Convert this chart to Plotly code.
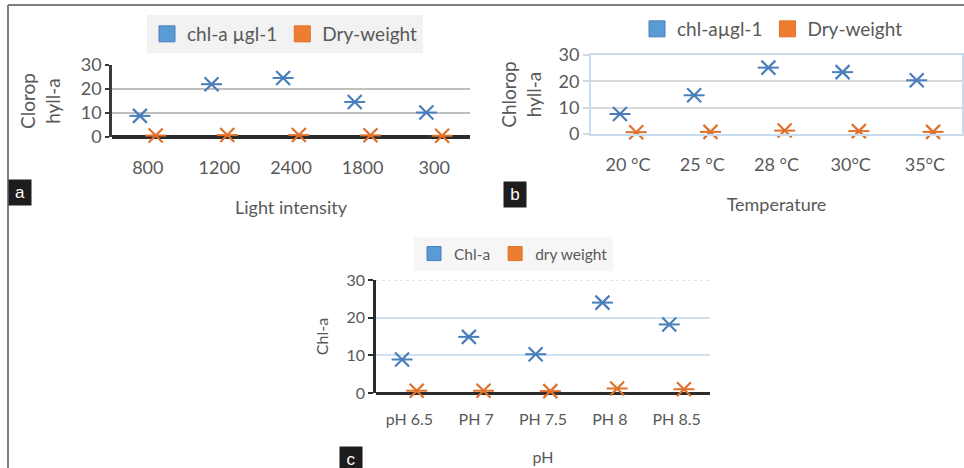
import plotly.graph_objects as go

W, H = 964, 468

# ---------------- data ----------------
light_cats = ["800", "1200", "2400", "1800", "300"]
light_chl = [8.8, 22.0, 24.6, 14.6, 10.2]
light_dry = [0.6, 0.8, 0.8, 0.7, 0.5]

temp_cats = ["20 °C", "25 °C", "28 °C", "30°C", "35°C"]
temp_chl = [7.6, 14.7, 25.2, 23.5, 20.4]
temp_dry = [0.7, 0.8, 1.3, 1.1, 0.8]

ph_cats = ["pH 6.5", "PH 7", "PH 7.5", "PH 8", "PH 8.5"]
ph_chl = [8.9, 14.9, 10.3, 24.0, 18.2]
ph_dry = [0.6, 0.6, 0.5, 1.2, 1.0]

y_ticks = [0, 10, 20, 30]

BLUE = "#4a7ebb"
ORANGE = "#e0712b"
BLUE_SQ = "#5b9bd5"
ORANGE_SQ = "#ed7d31"
TXT = "#595959"
FONT = "Lato, 'Open Sans', sans-serif"


def px_x(p):
    return p / W


def px_y(p):
    return 1 - p / H


fig = go.Figure()

panels = [
    ("x", "y", light_cats, light_chl, light_dry, "legend", "chl-a µgl-1", "Dry-weight"),
    ("x2", "y2", temp_cats, temp_chl, temp_dry, "legend2", "chl-aµgl-1", "Dry-weight"),
    ("x3", "y3", ph_cats, ph_chl, ph_dry, "legend3", "Chl-a", "dry weight"),
]

for xa, ya, cats, chl, dry, leg, n1, n2 in panels:
    sq_size = 14 if leg == "legend3" else 17
    for name, vals, col, sq, grp in [(n1, chl, BLUE, BLUE_SQ, "g1"), (n2, dry, ORANGE, ORANGE_SQ, "g2")]:
        # X part of marker
        fig.add_trace(go.Scatter(
            x=cats, y=vals, mode="markers", xaxis=xa, yaxis=ya,
            offsetgroup=grp, showlegend=False, cliponaxis=False,
            marker=dict(symbol="x-thin-open", size=14, color=col, line=dict(color=col, width=2.2)),
            hoverinfo="x+y", name=name,
        ))
        # horizontal bar of marker
        fig.add_trace(go.Scatter(
            x=cats, y=vals, mode="markers", xaxis=xa, yaxis=ya,
            offsetgroup=grp, showlegend=False, cliponaxis=False,
            marker=dict(symbol="line-ew-open", size=15, color=col, line=dict(color=col, width=2)),
            hoverinfo="skip", name=name,
        ))
        # legend entry (square)
        fig.add_trace(go.Scatter(
            x=[None], y=[None], mode="markers", xaxis=xa, yaxis=ya,
            offsetgroup=grp, legend=leg, name=name,
            marker=dict(symbol="square", size=sq_size, color=sq,
                        line=dict(color=col, width=1)),
        ))

tickfont = dict(family=FONT, size=18, color=TXT)

layout = dict(
    width=W, height=H,
    margin=dict(l=0, r=0, t=0, b=0, autoexpand=False),
    paper_bgcolor="white", plot_bgcolor="white",
    scattermode="group", scattergap=0.56,
    font=dict(family=FONT, color=TXT),
    # panel a
    xaxis=dict(domain=[px_x(112), px_x(470)], anchor="y", type="category",
               showgrid=False, showline=False, ticks="", zeroline=False,
               tickfont=tickfont, ticklabelstandoff=18,
               title=dict(text="Light intensity", font=dict(family=FONT, size=18, color=TXT), standoff=24)),
    yaxis=dict(domain=[px_y(137), px_y(65)], anchor="x", range=[0, 30],
               tickvals=y_ticks, showgrid=True, gridcolor="#bfbfbf", gridwidth=1.5,
               showline=True, linecolor="#3a3a3a", linewidth=2.5,
               ticks="outside", ticklen=4, tickcolor="#3a3a3a", tickwidth=2,
               zeroline=True, zerolinecolor="#2b2b2b", zerolinewidth=3.5,
               tickfont=tickfont,
               title=dict(text="Clorop<br>hyll-a", font=dict(family=FONT, size=19, color=TXT), standoff=16)),
    # panel b
    xaxis2=dict(domain=[px_x(591), px_x(962)], anchor="y2", type="category",
                showgrid=False, showline=True, linecolor="#c9dcef", linewidth=2, mirror=True,
                ticks="", zeroline=False,
                tickfont=tickfont, ticklabelstandoff=13,
                title=dict(text="Temperature", font=dict(family=FONT, size=18, color=TXT), standoff=25)),
    yaxis2=dict(domain=[px_y(134), px_y(55)], anchor="x2", range=[0, 30],
                tickvals=y_ticks, showgrid=True, gridcolor="#d9d9d9", gridwidth=1.5,
                showline=True, linecolor="#c9dcef", linewidth=2, mirror=True,
                ticks="outside", ticklen=6, tickcolor="#d9d9d9", tickwidth=1.5,
                zeroline=False, tickfont=tickfont,
                title=dict(text="Chlorop<br>hyll-a", font=dict(family=FONT, size=19, color=TXT), standoff=12)),
    # panel c
    xaxis3=dict(domain=[px_x(376), px_x(710)], anchor="y3", type="category",
                showgrid=False, showline=False, ticks="", zeroline=False,
                tickfont=dict(family=FONT, size=16, color=TXT), ticklabelstandoff=15,
                title=dict(text="pH", font=dict(family=FONT, size=16, color=TXT), standoff=24)),
    yaxis3=dict(domain=[px_y(393), px_y(280)], anchor="x3", range=[0, 30],
                tickvals=y_ticks, showgrid=True, gridcolor="#cfe0f1", gridwidth=1.5,
                showline=True, linecolor="#2b2b2b", linewidth=2.5,
                ticks="outside", ticklen=5, tickcolor="#2b2b2b", tickwidth=2,
                zeroline=True, zerolinecolor="#2b2b2b", zerolinewidth=3,
                tickfont=dict(family=FONT, size=16, color=TXT),
                title=dict(text="Chl-a", font=dict(family=FONT, size=16, color=TXT), standoff=14)),
    legend=dict(orientation="h", x=px_x(147), y=px_y(15), xanchor="left", yanchor="top",
                bgcolor="#f2f2f2", font=dict(family=FONT, size=19, color=TXT),
                itemsizing="trace", itemclick=False, tracegroupgap=0),
    legend2=dict(orientation="h", x=px_x(637), y=px_y(10), xanchor="left", yanchor="top",
                 bgcolor="rgba(0,0,0,0)", font=dict(family=FONT, size=19, color=TXT),
                 itemsizing="trace", itemclick=False),
    legend3=dict(orientation="h", x=px_x(414), y=px_y(237), xanchor="left", yanchor="top",
                 bgcolor="#f6f6f6", font=dict(family=FONT, size=15.5, color=TXT),
                 itemsizing="trace", itemclick=False),
)
fig.update_layout(**layout)

# dotted top gridline of panel c
fig.add_shape(type="line", xref="x3 domain", yref="y3", x0=0, x1=1,
              y0=y_ticks[-1], y1=y_ticks[-1],
              line=dict(color="#cfe0f1", width=1.5, dash="dot"), layer="below")

# outer frame (top and left)
fig.add_shape(type="line", xref="paper", yref="paper", x0=px_x(8), x1=1, y0=px_y(5), y1=px_y(5),
              line=dict(color="#7f7f7f", width=2))
fig.add_shape(type="line", xref="paper", yref="paper", x0=px_x(8), x1=px_x(8), y0=px_y(5), y1=0,
              line=dict(color="#7f7f7f", width=2))

# panel letters
for letter, cx, cy in [("a", 20, 192), ("b", 515, 194), ("c", 351, 459)]:
    fig.add_annotation(text=letter, xref="paper", yref="paper", x=px_x(cx), y=px_y(cy),
                       xanchor="center", yanchor="middle", showarrow=False,
                       bgcolor="#1f1c1d", borderpad=3, width=16,
                       font=dict(family="Liberation Sans, Arial", size=17, color="white"))

fig.write_html("out.html", config={"displayModeBar": False},
               post_script="document.body.style.margin='0';document.body.style.overflow='hidden';")
